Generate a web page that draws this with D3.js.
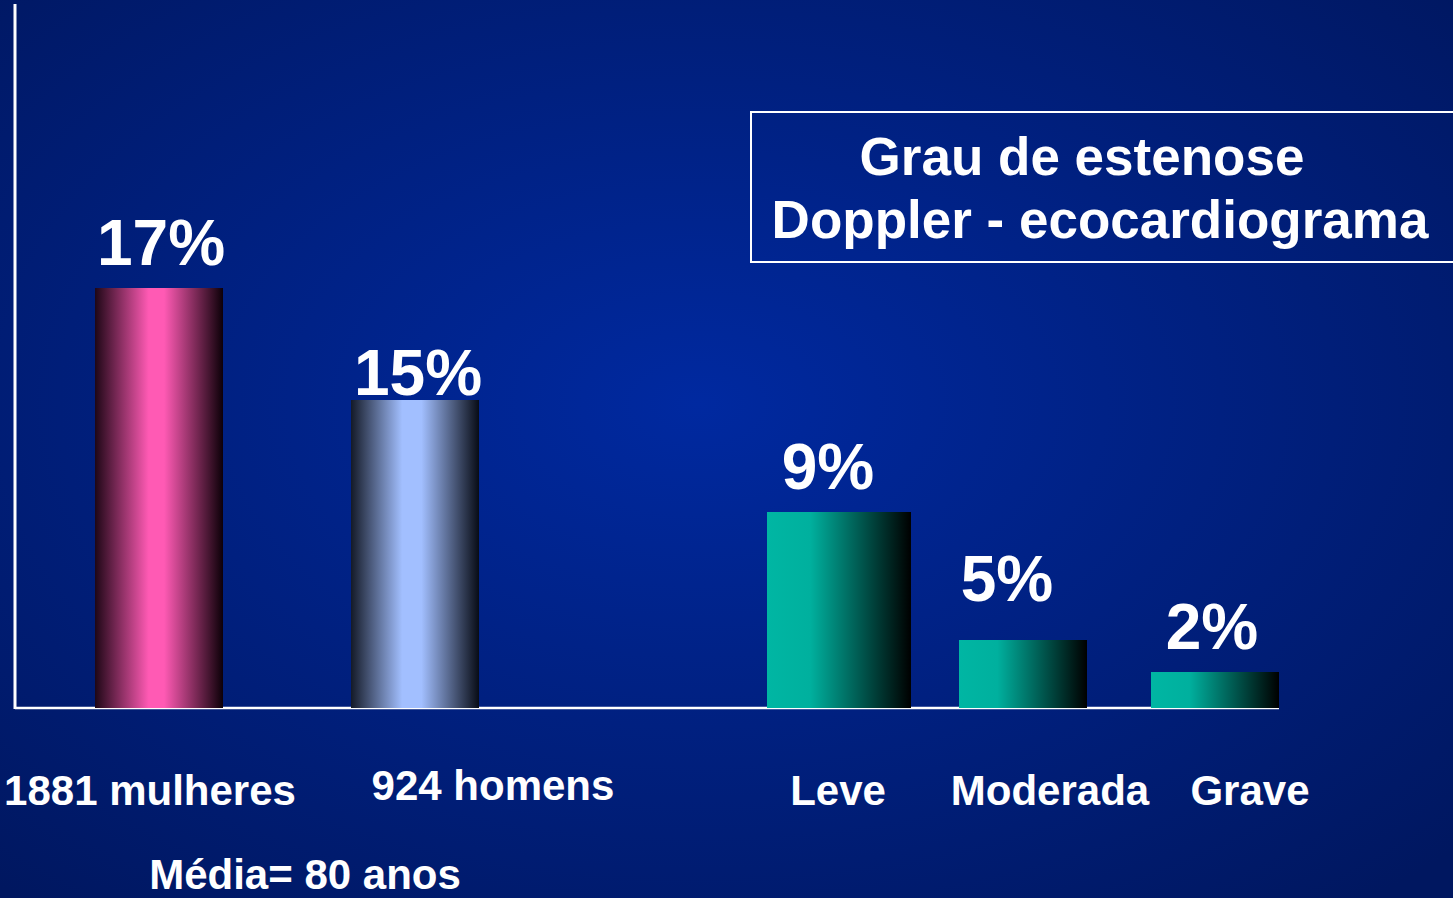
<!DOCTYPE html>
<html>
<head>
    <meta charset="utf-8">
    <title>Grau de estenose</title>
    <style>
        html, body { margin: 0; padding: 0; background: #001a6a; }
        svg { display: block; }
        text {
            font-family: "Liberation Sans", Arial, sans-serif;
            font-weight: bold;
            fill: #fff;
        }
    </style>
</head>
<body>
    <script src="https://d3js.org/d3.v7.min.js"></script>
    <script>
        const width = 1453;
        const height = 898;

        // data
        const sexCategories = ["1881 mulheres", "924 homens"];
        const sexValues = [17, 15];
        const gradeCategories = ["Leve", "Moderada", "Grave"];
        const gradeValues = [9, 5, 2];
        const titleLines = ["Grau de estenose", "Doppler - ecocardiograma"];
        const footnote = "Média= 80 anos";

        const svg = d3.select("body").append("svg")
            .attr("width", width)
            .attr("height", height);

        const defs = svg.append("defs");

        // background
        const bg = defs.append("radialGradient").attr("id", "bg")
            .attr("cx", "48%").attr("cy", "45%").attr("r", "72%");
        bg.append("stop").attr("offset", "0%").attr("stop-color", "#0029a0");
        bg.append("stop").attr("offset", "100%").attr("stop-color", "#001760");
        svg.append("rect").attr("width", width).attr("height", height).attr("fill", "url(#bg)");

        function barGradient(id, stops) {
            const g = defs.append("linearGradient").attr("id", id)
                .attr("x1", "0%").attr("x2", "100%").attr("y1", "0%").attr("y2", "0%");
            stops.forEach(s => g.append("stop").attr("offset", s[0]).attr("stop-color", s[1]));
        }
        barGradient("pink", [["0%", "#1e0716"], ["42%", "#ff5ab4"], ["54%", "#ff5ab4"], ["100%", "#0c0008"]]);
        barGradient("blue", [["0%", "#141a28"], ["40%", "#a2bfff"], ["55%", "#a2bfff"], ["100%", "#080c16"]]);
        barGradient("teal", [["0%", "#00b6a3"], ["30%", "#00b09e"], ["100%", "#000000"]]);

        // bars on the slide are not drawn to one linear scale, so a piecewise scale follows them
        const baseY = 708;
        const y = d3.scaleLinear()
            .domain([0, 2, 5, 9, 15, 17])
            .range([baseY, 672, 640, 512, 400, 288]);

        const xSex = d3.scaleBand()
            .domain(sexCategories)
            .range([31, 543])
            .paddingInner(0.5)
            .paddingOuter(0.25);

        const xGrade = d3.scaleBand()
            .domain(gradeCategories)
            .range([735, 1311])
            .paddingInner(1 / 3)
            .paddingOuter(1 / 6);

        const sexData = sexCategories.map((c, i) => ({ cat: c, value: sexValues[i], x: xSex(c), w: xSex.bandwidth(), fill: i === 0 ? "url(#pink)" : "url(#blue)" }));
        // the "Leve" bar is a little wider on the slide
        const gradeData = gradeCategories.map((c, i) => ({ cat: c, value: gradeValues[i], x: xGrade(c), w: xGrade.bandwidth() + (i === 0 ? 16 : 0), fill: "url(#teal)" }));
        const allBars = sexData.concat(gradeData);

        // axes
        svg.append("line")
            .attr("x1", 15).attr("x2", 15)
            .attr("y1", 4).attr("y2", y(0) + 1)
            .attr("stroke", "#fff").attr("stroke-width", 3);
        svg.append("line")
            .attr("x1", 15).attr("x2", xGrade.range()[1] - 32)
            .attr("y1", y(0)).attr("y2", y(0))
            .attr("stroke", "#fff").attr("stroke-width", 2.5);

        svg.append("g").selectAll("rect")
            .data(allBars)
            .join("rect")
            .attr("x", d => d.x)
            .attr("y", d => y(d.value))
            .attr("width", d => d.w)
            .attr("height", d => y(0) - y(d.value))
            .attr("fill", d => d.fill);

        // value labels
        const valueNudge = { "1881 mulheres": [2, 0], "924 homens": [3, 18], "Leve": [-11, 0], "Moderada": [-16, -16], "Grave": [-3, 0] };
        svg.append("g").selectAll("text")
            .data(allBars)
            .join("text")
            .attr("x", d => d.x + d.w / 2 + valueNudge[d.cat][0])
            .attr("y", d => y(d.value) - 23 + valueNudge[d.cat][1])
            .attr("text-anchor", "middle")
            .style("font-size", "64px")
            .text(d => d.value + "%");

        // category labels
        const catNudge = { "1881 mulheres": [-9, 0], "924 homens": [78, -5], "Leve": [-1, 0], "Moderada": [27, 0], "Grave": [35, 0] };
        svg.append("g").selectAll("text")
            .data(allBars)
            .join("text")
            .attr("x", d => d.x + d.w / 2 + catNudge[d.cat][0])
            .attr("y", 805)
            .attr("dy", d => catNudge[d.cat][1])
            .attr("text-anchor", "middle")
            .style("font-size", "42px")
            .text(d => d.cat);

        svg.append("text")
            .attr("x", 305).attr("y", 889)
            .attr("text-anchor", "middle")
            .style("font-size", "42px")
            .text(footnote);

        // title box
        svg.append("rect")
            .attr("x", 751).attr("y", 112)
            .attr("width", 720).attr("height", 150)
            .attr("fill", "none")
            .attr("stroke", "#fff").attr("stroke-width", 2);

        svg.append("text")
            .attr("x", 1082).attr("y", 175)
            .attr("text-anchor", "middle")
            .style("font-size", "53px")
            .text(titleLines[0]);
        svg.append("text")
            .attr("x", 1100).attr("y", 238)
            .attr("text-anchor", "middle")
            .style("font-size", "53px")
            .text(titleLines[1]);
    </script>
</body>
</html>
